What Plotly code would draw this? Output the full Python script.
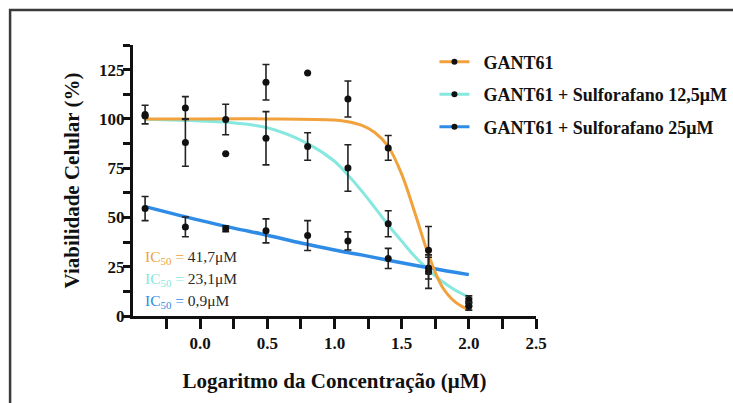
import plotly.graph_objects as go

# ---- data ----
x_log = [-0.41, -0.11, 0.19, 0.49, 0.80, 1.10, 1.40, 1.70, 2.00]

gant61 = [102.2, 105.5, 99.7, 118.6, 123.3, 110.1, 85.3, 33.4, 5.0]
gant61_err = [4.7, 5.8, 7.7, 9.0, 0.0, 9.1, 6.3, 12.0, 2.0]

sulf125 = [101.5, 88.0, 82.3, 90.2, 86.0, 75.1, 46.8, 22.5, 7.0]
sulf125_err = [0.0, 12.0, 0.0, 13.5, 7.0, 11.8, 6.6, 8.5, 2.0]

sulf25 = [54.5, 45.2, 44.3, 43.2, 40.8, 38.1, 29.2, 24.3, 8.2]
sulf25_err = [6.1, 5.0, 1.5, 6.1, 7.6, 4.6, 5.1, 5.5, 2.0]

# fitted curves
fit_x_gant = [-0.41, 0.0, 0.5, 1.0, 1.1, 1.2, 1.3, 1.4, 1.5, 1.6, 1.7, 1.8, 1.9, 2.0]
fit_y_gant = [100, 100, 100, 99.4, 98.6, 96.8, 93.1, 86, 72, 52, 31, 15, 7, 3]

fit_x_s125 = [-0.41, 0.0, 0.2, 0.5, 0.8, 1.0, 1.1, 1.2, 1.3, 1.4, 1.5, 1.6, 1.7, 1.8, 1.9, 2.0]
fit_y_s125 = [99.8, 99.0, 98.3, 95.5, 87.5, 78.5, 71.5, 63.6, 55.0, 46.2, 38.0, 30.1, 23.5, 17.6, 13.1, 9.7]

fit_x_s25 = [-0.41, 0.0, 0.25, 0.5, 0.75, 1.0, 1.2, 1.4, 1.7, 2.0]
fit_y_s25 = [55.5, 48.5, 44.6, 41.0, 37.0, 33.5, 31.0, 28.3, 24.5, 21.0]

names = ["GANT61", "GANT61 + Sulforafano 12,5μM", "GANT61 + Sulforafano 25μM"]
colors = ["#F2A23C", "#86E8DE", "#2E8BE6"]
ic50_text = ["41,7μM", "23,1μM", "0,9μM"]

x_tickvals = [0.0, 0.5, 1.0, 1.5, 2.0, 2.5]
x_ticktext = ["0.0", "0.5", "1.0", "1.5", "2.0", "2.5"]
y_tickvals = [0, 25, 50, 75, 100, 125]

SERIF = "Liberation Serif, Times New Roman, serif"

fig = go.Figure()

# curves (cyan under, then blue, then orange)
for fx, fy, c, w in [(fit_x_s125, fit_y_s125, colors[1], 3),
                     (fit_x_s25, fit_y_s25, colors[2], 3.5),
                     (fit_x_gant, fit_y_gant, colors[0], 3)]:
    fig.add_trace(go.Scatter(x=fx, y=fy, mode="lines", line=dict(color=c, width=w, shape="spline", smoothing=1),
                             showlegend=False, hoverinfo="skip"))

# data points with error bars
for ys, es in [(sulf125, sulf125_err), (sulf25, sulf25_err), (gant61, gant61_err)]:
    fig.add_trace(go.Scatter(
        x=x_log, y=ys, mode="markers",
        marker=dict(color="#111111", size=7),
        error_y=dict(type="data", array=es, visible=True, color="#222222", thickness=1.6, width=3.5),
        showlegend=False, cliponaxis=False))

# legend entries
for i, (n, c) in enumerate(zip(names, colors)):
    fig.add_trace(go.Scatter(x=[None], y=[None], mode="lines+markers", name="\u00a0\u00a0<b>" + n + "</b>",
                             line=dict(color=c, width=3), marker=dict(color="#111111", size=6),
                             legendgroup=str(i)))

# IC50 annotations
ic_y = [0.2177, 0.1365, 0.0517]
for col, txt, yy in zip(colors, ic50_text, ic_y):
    fig.add_annotation(
        xref="paper", yref="paper", x=0.024, y=yy, xanchor="left", yanchor="middle", showarrow=False,
        text=f"<span style='color:{col}'>IC<sub>50</sub> =</span> <span style='color:#2a2a2a'>{txt}</span>",
        font=dict(family=SERIF, size=15.5, color="#2a2a2a"))

# frame around the picture
fig.add_shape(type="rect", xref="paper", yref="paper", x0=-0.305, x1=1.6, y0=-0.4, y1=1.129,
              line=dict(color="#3a3a3a", width=2.5), layer="above")

tick_font = dict(family=SERIF, size=17, color="#111111")

fig.update_layout(
    width=733, height=403,
    margin=dict(l=133, r=197, t=45, b=87, autoexpand=False),
    paper_bgcolor="white", plot_bgcolor="white",
    font=dict(family=SERIF, color="#111111"),
    legend=dict(x=0.748, y=1.005, xanchor="left", yanchor="top",
                font=dict(family=SERIF, size=18, color="#111111"),
                bgcolor="rgba(0,0,0,0)", traceorder="grouped", tracegroupgap=6),
    xaxis=dict(range=[-0.5, 2.5], tickvals=x_tickvals, ticktext=["<b>" + t + "</b>" for t in x_ticktext],
               ticks="outside", ticklen=10, tickwidth=2.5, tickcolor="#111111",
               minor=dict(tickvals=[-0.25, 0.25, 0.75, 1.25, 1.75, 2.25], ticks="outside",
                          ticklen=10, tickwidth=2.5, tickcolor="#111111"),
               showline=True, linewidth=3, linecolor="#111111", showgrid=False, zeroline=False,
               tickfont=tick_font,
               title=dict(text="<b>Logaritmo da Concentração (μM)</b>", standoff=21,
                          font=dict(family=SERIF, size=21, color="#111111"))),
    yaxis=dict(range=[0, 137.5], tickvals=y_tickvals, ticktext=["<b>%d</b>" % v for v in y_tickvals],
               ticks="outside", ticklen=7, tickwidth=2.5, tickcolor="#111111",
               ticklabelstandoff=-5,
               minor=dict(tickvals=[12.5, 37.5, 62.5, 87.5, 112.5, 137.5], ticks="outside",
                          ticklen=7, tickwidth=2.5, tickcolor="#111111"),
               showline=True, linewidth=3, linecolor="#111111", showgrid=False, zeroline=False,
               tickfont=tick_font,
               title=dict(text="<b>Viabilidade Celular (%)</b>", standoff=14,
                          font=dict(family=SERIF, size=21, color="#111111"))),
)

fig.write_html("out.html")
